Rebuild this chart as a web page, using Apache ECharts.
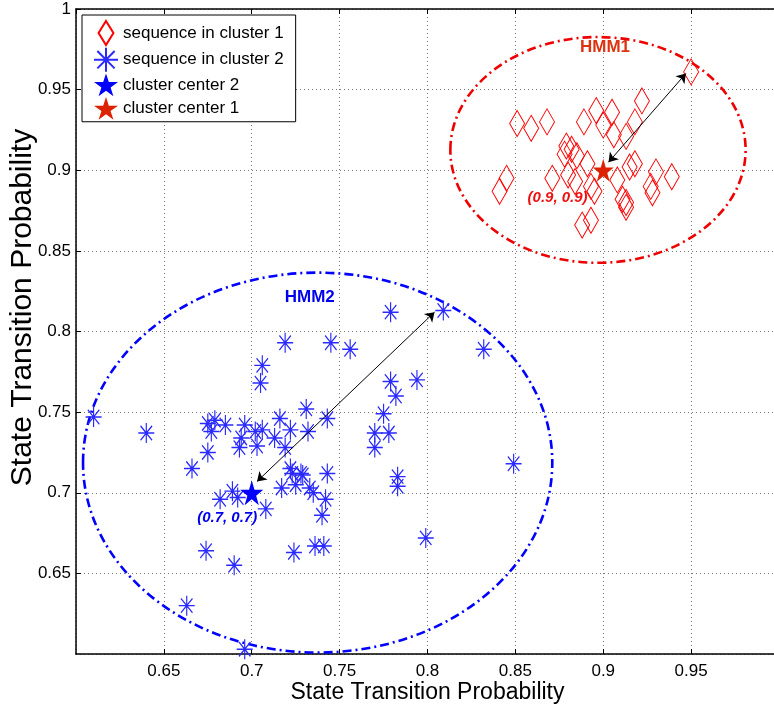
<!DOCTYPE html>
<html>
<head>
<meta charset="utf-8">
<script src="https://cdn.jsdelivr.net/npm/echarts@6/dist/echarts.min.js"></script>
<style>
  html, body { margin: 0; padding: 0; background: #fff; }
  #chart { width: 774px; height: 709px; }
</style>
</head>
<body>
<div id="chart"></div>
<script>
  // points
  var cluster1 = [[0.950,0.961],[0.922,0.943],[0.851,0.929],[0.859,0.926],[0.868,0.930],[0.896,0.937],
    [0.905,0.936],[0.889,0.930],[0.900,0.928],[0.918,0.930],[0.906,0.922],[0.913,0.921],[0.879,0.915],
    [0.882,0.913],[0.878,0.910],[0.885,0.909],[0.891,0.904],[0.918,0.904],[0.915,0.902],[0.930,0.899],
    [0.939,0.896],[0.845,0.895],[0.841,0.887],[0.871,0.895],[0.880,0.897],[0.884,0.893],[0.893,0.890],
    [0.895,0.887],[0.908,0.894],[0.927,0.890],[0.928,0.886],[0.911,0.882],[0.913,0.880],[0.913,0.877],
    [0.888,0.866],[0.893,0.869]];
  var cluster2 = [[0.610,0.747],[0.640,0.737],[0.719,0.793],[0.745,0.793],[0.706,0.779],[0.705,0.768],
    [0.675,0.743],[0.679,0.745],[0.677,0.738],[0.685,0.742],[0.696,0.742],[0.694,0.734],[0.693,0.728],
    [0.702,0.738],[0.706,0.739],[0.703,0.729],[0.716,0.746],[0.722,0.739],[0.713,0.734],[0.719,0.728],
    [0.731,0.752],[0.732,0.738],[0.743,0.746],[0.675,0.725],[0.779,0.812],[0.756,0.789],[0.809,0.813],
    [0.832,0.789],[0.779,0.769],[0.782,0.760],[0.794,0.770],[0.775,0.749],[0.770,0.737],[0.778,0.737],
    [0.770,0.728],[0.849,0.718],[0.783,0.710],[0.783,0.704],[0.743,0.712],[0.728,0.712],[0.733,0.703],
    [0.735,0.700],[0.742,0.696],[0.666,0.715],[0.722,0.715],[0.723,0.712],[0.729,0.711],[0.717,0.703],
    [0.725,0.705],[0.740,0.686],[0.682,0.696],[0.689,0.701],[0.692,0.697],[0.708,0.690],[0.674,0.664],
    [0.690,0.655],[0.724,0.663],[0.736,0.667],[0.741,0.667],[0.663,0.630],[0.696,0.603],[0.799,0.672]];
  var center1 = [[0.9, 0.9]];
  var center2 = [[0.7, 0.7]];
  // ellipse: cx, cy, rx, ry (data units)
  var ellipse1 = [0.897, 0.9126, 0.084, 0.070];
  var ellipse2 = [0.7375, 0.7187, 0.1335, 0.1178];
  var arrow1 = [[0.903, 0.905], [0.947, 0.960]];
  var arrow2 = [[0.703, 0.707], [0.804, 0.812]];
  var notes = [
    {name: 'HMM1', value: [0.901, 0.976], color: '#dd3311', italic: false},
    {name: 'HMM2', value: [0.733, 0.821], color: '#0000ee', italic: false},
    {name: '(0.9, 0.9)', value: [0.874, 0.883], color: '#ee1111', italic: true},
    {name: '(0.7, 0.7)', value: [0.686, 0.6845], color: '#0000ee', italic: true}
  ];

  var STAR = 'path://M0,-1L0.2245,-0.309L0.951,-0.309L0.363,0.118L0.588,0.809L0,0.382L-0.588,0.809L-0.363,0.118L-0.951,-0.309L-0.2245,-0.309Z';
  var ASTER = 'path://M0,-1L0,1M-1,0L1,0M-0.72,-0.72L0.72,0.72M-0.72,0.72L0.72,-0.72';
  var DIAMOND = 'path://M0,-1L0.62,0L0,1L-0.62,0Z';
  var FONT = '"Liberation Sans", Arial, sans-serif';

  function renderEllipse(params, api) {
    var c = api.coord([api.value(0), api.value(1)]);
    var s = api.size([api.value(2), api.value(3)]);
    return {
      type: 'ellipse',
      shape: {cx: c[0], cy: c[1], rx: s[0], ry: s[1]},
      style: {fill: null, stroke: api.value(4) === 1 ? '#ee0000' : '#0000ff', lineWidth: 2.6, lineDash: [9, 4, 2, 4]}
    };
  }

  var chart = echarts.init(document.getElementById('chart'));
  var gridLine = {show: true, lineStyle: {color: '#777', width: 1, type: [1, 3]}};

  var option = {
    animation: false,
    textStyle: {fontFamily: FONT},
    grid: {left: 76, top: 9, right: -5, bottom: 55, outerBoundsMode: 'none', containLabel: false},
    legend: {
      orient: 'vertical',
      left: 82, top: 15,
      backgroundColor: '#fff',
      borderColor: '#000', borderWidth: 1,
      padding: [5, 12, 2, 11],
      itemWidth: 24, itemHeight: 24, itemGap: 0.7,
      symbolKeepAspect: true,
      textStyle: {fontSize: 17, color: '#000', fontFamily: FONT},
      data: [
        {name: 'sequence in cluster 1', icon: DIAMOND},
        {name: 'sequence in cluster 2', icon: ASTER},
        {name: 'cluster center 2', icon: STAR},
        {name: 'cluster center 1', icon: STAR}
      ]
    },
    xAxis: [{
      type: 'value', min: 0.6, max: 1, interval: 0.05,
      name: 'State Transition Probability', nameLocation: 'middle', nameGap: 27, nameMoveOverlap: false,
      nameTextStyle: {fontSize: 23, color: '#000'},
      axisLine: {lineStyle: {color: '#000', width: 1.5}},
      axisTick: {inside: true, length: 5, lineStyle: {color: '#000'}},
      axisLabel: {fontSize: 17, color: '#000', margin: 9, showMinLabel: false, showMaxLabel: false},
      splitLine: gridLine
    }, {
      type: 'value', position: 'top', min: 0.6, max: 1, interval: 0.05,
      axisLine: {lineStyle: {color: '#000', width: 1.5}},
      axisTick: {inside: true, length: 5, lineStyle: {color: '#000'}},
      axisLabel: {show: false}, splitLine: {show: false}
    }],
    yAxis: {
      type: 'value', min: 0.6, max: 1, interval: 0.05,
      name: 'State Transition Probability', nameLocation: 'middle', nameGap: 38, nameMoveOverlap: false,
      nameTextStyle: {fontSize: 30, color: '#000', padding: [0, 0, 0, 48]},
      axisLine: {lineStyle: {color: '#000', width: 1.5}},
      axisTick: {inside: true, length: 5, lineStyle: {color: '#000'}},
      axisLabel: {fontSize: 17, color: '#000', margin: 5, showMinLabel: false},
      splitLine: gridLine
    },
    series: [{
      type: 'custom', name: 'ellipses', renderItem: renderEllipse, silent: true, z: 1,
      data: [ellipse1.concat([1]), ellipse2.concat([2])]
    }, {
      type: 'scatter', name: 'sequence in cluster 1', data: cluster1, z: 3,
      symbol: 'diamond', symbolSize: [15, 26],
      itemStyle: {color: 'rgba(255,255,255,0)', borderColor: '#ff0000', borderWidth: 1, opacity: 1}
    }, {
      type: 'scatter', name: 'sequence in cluster 2', data: cluster2, z: 3,
      symbol: ASTER, symbolSize: [16, 20],
      itemStyle: {color: 'rgba(255,255,255,0)', borderColor: '#2a2aff', borderWidth: 1.3, opacity: 1}
    }, {
      type: 'lines', coordinateSystem: 'cartesian2d', z: 4, silent: true,
      symbol: ['arrow', 'arrow'], symbolSize: 9,
      lineStyle: {color: '#000', width: 1, opacity: 1},
      data: [{coords: arrow1}, {coords: arrow2}]
    }, {
      type: 'scatter', name: 'cluster center 2', data: center2, z: 5,
      symbol: STAR, symbolSize: [23, 25],
      itemStyle: {color: '#0000ff', opacity: 1}
    }, {
      type: 'scatter', name: 'cluster center 1', data: center1, z: 5,
      symbol: STAR, symbolSize: [21, 23],
      itemStyle: {color: '#dd2200', opacity: 1}
    }, {
      type: 'scatter', name: 'notes', z: 6, silent: true, symbolSize: 0,
      itemStyle: {opacity: 1},
      data: notes.map(function (n) {
        return {
          name: n.name, value: n.value,
          label: {
            show: true, position: 'inside', formatter: '{b}', opacity: 1,
            color: n.color, fontWeight: 'bold', fontSize: n.italic ? 15 : 17,
            fontStyle: n.italic ? 'italic' : 'normal', fontFamily: FONT
          }
        };
      })
    }]
  };
  chart.setOption(option);
</script>
</body>
</html>
